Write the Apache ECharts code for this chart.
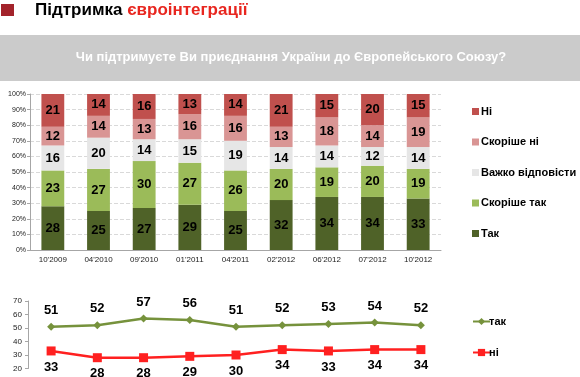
<!DOCTYPE html>
<html>
<head>
<meta charset="utf-8">
<script src="https://cdn.jsdelivr.net/npm/echarts@6/dist/echarts.min.js"></script>
<style>
  html, body { margin: 0; padding: 0; background: #fff; }
  #chart { width: 580px; height: 377px; }
</style>
</head>
<body>
<div id="chart"></div>
<script>
var categories = ['10\'2009', '04\'2010', '09\'2010', '01\'2011', '04\'2011', '02\'2012', '06\'2012', '07\'2012', '10\'2012']
// stacked bar shares, %
var tak = [28, 25, 27, 29, 25, 32, 34, 34, 33]
var skorisheTak = [23, 27, 30, 27, 26, 20, 19, 20, 19]
var vazhko = [16, 20, 14, 15, 19, 14, 14, 12, 14]
var skorisheNi = [12, 14, 13, 16, 16, 13, 18, 14, 19]
var ni = [21, 14, 16, 13, 14, 21, 15, 20, 15]
// lines
var lineTak = [51, 52, 57, 56, 51, 52, 53, 54, 52]
var lineNi = [33, 28, 28, 29, 30, 34, 33, 34, 34]

var FONT = 'Arial, "Liberation Sans", sans-serif'

var chart = echarts.init(document.getElementById('chart'))

function barSeries(name, data, color) {
  return {
    name: name,
    type: 'bar',
    stack: 'all',
    xAxisIndex: 0,
    yAxisIndex: 0,
    barWidth: '50%',
    itemStyle: { color: color },
    label: {
      show: true,
      position: 'inside',
      color: '#000',
      fontWeight: 'bold',
      fontSize: 13,
      fontFamily: FONT
    },
    data: data
  }
}

chart.setOption({
  animation: false,
  graphic: [
    { type: 'rect', shape: { x: 1, y: 4, width: 13, height: 12 }, style: { fill: '#A3232B' } },
    {
      type: 'text',
      left: 35,
      top: 2,
      style: {
        text: '{a|Підтримка }{b|євроінтеграції}',
        rich: {
          a: { fontSize: 17, fontWeight: 'bold', fill: '#000', fontFamily: FONT },
          b: { fontSize: 17, fontWeight: 'bold', fill: '#E8261F', fontFamily: FONT }
        }
      }
    },
    { type: 'rect', shape: { x: 0, y: 35, width: 580, height: 46 }, style: { fill: '#CBCBCB' } },
    {
      type: 'text',
      x: 291,
      y: 57,
      style: {
        text: 'Чи підтримуєте Ви приєднання України до Європейського Союзу?',
        fill: '#fff',
        fontSize: 13,
        fontWeight: 'bold',
        fontFamily: FONT,
        align: 'center',
        verticalAlign: 'middle'
      }
    }
  ],
  legend: [
    {
      orient: 'vertical',
      left: 467,
      top: 101,
      itemWidth: 7,
      itemHeight: 7,
      itemGap: 19.5,
      icon: 'rect',
      textStyle: { fontSize: 11, fontWeight: 'bold', color: '#000', fontFamily: FONT, padding: [0, 0, 0, -3] },
      data: ['Ні', 'Скоріше ні', 'Важко відповісти', 'Скоріше так', 'Так']
    },
    {
      orient: 'vertical',
      left: 467,
      top: 311,
      itemWidth: 17,
      itemHeight: 9,
      itemGap: 20,
      itemStyle: { borderWidth: 0 },
      textStyle: { fontSize: 11, fontWeight: 'bold', color: '#000', fontFamily: FONT, padding: [0, 0, 0, -6] },
      data: ['так', 'ні']
    }
  ],
  grid: [
    { left: 30, right: 139, top: 94, bottom: 127 },
    { left: 28, right: 136, top: 301, height: 67.5 }
  ],
  xAxis: [
    {
      type: 'category',
      gridIndex: 0,
      data: categories,
      axisLine: { lineStyle: { color: '#A6A6A6' } },
      axisTick: { lineStyle: { color: '#A6A6A6' } },
      axisLabel: { fontSize: 8, color: '#222', fontFamily: FONT, margin: 6 }
    },
    {
      type: 'category',
      gridIndex: 1,
      data: categories,
      axisLine: { show: false },
      axisTick: { show: false },
      axisLabel: { show: false }
    }
  ],
  yAxis: [
    {
      type: 'value',
      gridIndex: 0,
      min: 0,
      max: 100,
      interval: 10,
      axisLine: { show: true, lineStyle: { color: '#A6A6A6' } },
      axisTick: { show: true, length: 3, lineStyle: { color: '#A6A6A6' } },
      axisLabel: { formatter: '{value}%', fontSize: 7, color: '#222', fontFamily: FONT, margin: 4 },
      splitLine: { lineStyle: { color: '#D9D9D9', type: 'dashed' } }
    },
    {
      type: 'value',
      gridIndex: 1,
      min: 20,
      max: 70,
      interval: 10,
      axisLine: { show: true, lineStyle: { color: '#A6A6A6' } },
      axisTick: { show: true, length: 3, lineStyle: { color: '#A6A6A6' } },
      axisLabel: { fontSize: 8, color: '#222', fontFamily: FONT, margin: 6 },
      splitLine: { show: false }
    }
  ],
  series: [
    barSeries('Так', tak, '#4F6228'),
    barSeries('Скоріше так', skorisheTak, '#9BBB59'),
    barSeries('Важко відповісти', vazhko, '#E6E6E6'),
    barSeries('Скоріше ні', skorisheNi, '#D99594'),
    barSeries('Ні', ni, '#C0504D'),
    {
      name: 'так',
      type: 'line',
      xAxisIndex: 1,
      yAxisIndex: 1,
      data: lineTak,
      symbol: 'diamond',
      symbolSize: 8,
      lineStyle: { color: '#76923C', width: 2.5 },
      itemStyle: { color: '#76923C' },
      label: {
        show: true,
        position: 'top',
        distance: 6,
        color: '#000',
        fontWeight: 'bold',
        fontSize: 13,
        fontFamily: FONT
      }
    },
    {
      name: 'ні',
      type: 'line',
      xAxisIndex: 1,
      yAxisIndex: 1,
      data: lineNi,
      symbol: 'rect',
      symbolSize: 9,
      lineStyle: { color: '#FF2020', width: 2.5 },
      itemStyle: { color: '#FF2020' },
      label: {
        show: true,
        position: 'bottom',
        distance: 5,
        color: '#000',
        fontWeight: 'bold',
        fontSize: 13,
        fontFamily: FONT
      }
    }
  ]
})
</script>
</body>
</html>
